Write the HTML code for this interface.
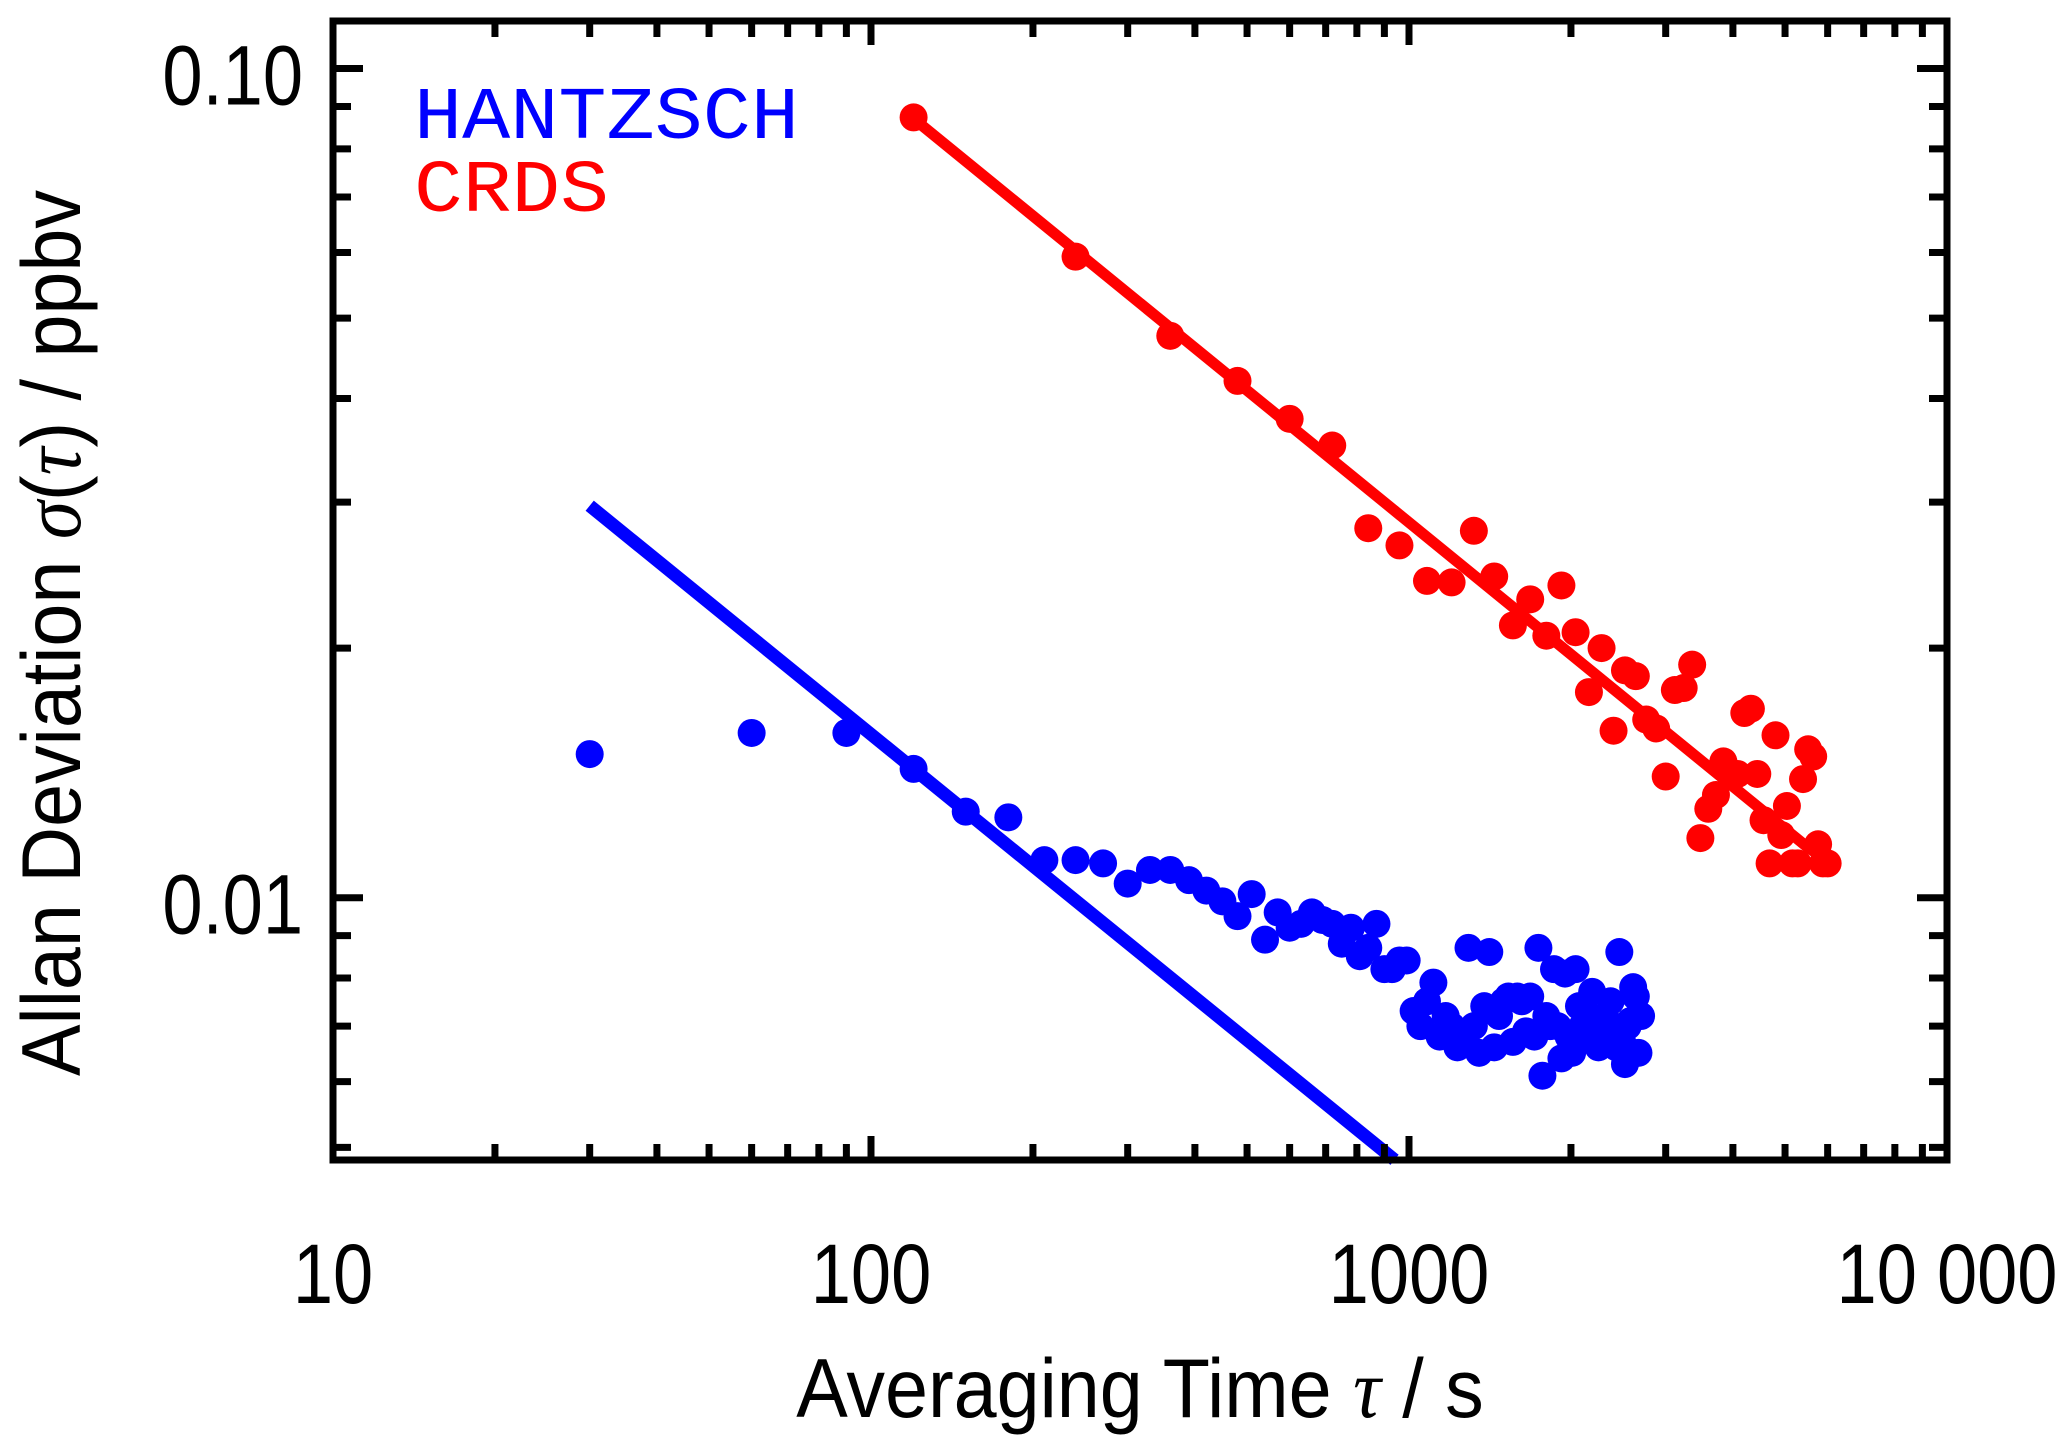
<!DOCTYPE html>
<html><head><meta charset="utf-8"><style>
html,body{margin:0;padding:0;background:#fff;}
svg{display:block;font-family:"Liberation Sans",sans-serif;}
</style></head><body>
<svg id="chart" width="2067" height="1449" viewBox="0 0 2067 1449" xmlns="http://www.w3.org/2000/svg">
<g id="marks"></g>
<g id="axes"></g>
<text x="414" y="138" font-family="Liberation Mono, monospace" font-size="74" textLength="385" lengthAdjust="spacingAndGlyphs" fill="#0000ff">HANTZSCH</text>
<text x="414" y="211" font-family="Liberation Mono, monospace" font-size="74" textLength="195" lengthAdjust="spacingAndGlyphs" fill="#ff0000">CRDS</text>
<text transform="translate(1140,1417) scale(0.92,1)" font-size="84" text-anchor="middle" fill="#000">Averaging Time <tspan font-family="Liberation Serif, serif" font-style="italic">τ</tspan> / s</text>
<text transform="translate(80,633) rotate(-90) scale(0.92,1)" font-size="84" text-anchor="middle" fill="#000">Allan Deviation <tspan font-family="Liberation Serif, serif" font-style="italic">σ</tspan>(<tspan font-family="Liberation Serif, serif" font-style="italic">τ</tspan>) / ppbv</text>
</svg>
<script>
const blueTau=[30,60,90,120,150,180,210,240,270,300,330,360,390,420,450,480,510,540,570,600,630,660,690,720,750,780,810,840,870,900,930,960,990,1020,1050,1080,1110,1140,1170,1200,1230,1260,1290,1320,1350,1380,1410,1440,1470,1500,1530,1560,1590,1620,1650,1680,1710,1740,1770,1800,1830,1860,1890,1920,1950,1980,2010,2040,2070,2100,2130,2160,2190,2220,2250,2280,2310,2340,2370,2400,2430,2460,2490,2520,2550,2580,2610,2640,2670,2700];
const blueSigma=[.0149,.0158,.0158,.0143,.0127,.0125,.0111,.0111,.0110,.0104,.0108,.0108,.0105,.0102,.0099,.0095,.0101,.0089,.0096,.0092,.0093,.0096,.0094,.0093,.0088,.0092,.0085,.0087,.0093,.0082,.0082,.0084,.0084,.0073,.0070,.0075,.0079,.0068,.0072,.0070,.0066,.0068,.0087,.0070,.0065,.0074,.0086,.0066,.0072,.0075,.0076,.0067,.0076,.0075,.0069,.0076,.0068,.0087,.0061,.0072,.0070,.0082,.0070,.0064,.0081,.0068,.0065,.0082,.0074,.0070,.0068,.0072,.0077,.0069,.0066,.0071,.0068,.0067,.0075,.0070,.0066,.0086,.0067,.0063,.0070,.0071,.0078,.0076,.0065,.0072];
const redTau=[120,240,360,480,600,720,840,960,1080,1200,1320,1440,1560,1680,1800,1920,2040,2160,2280,2400,2520,2640,2760,2880,3000,3120,3240,3360,3480,3600,3720,3840,3960,4080,4200,4320,4440,4560,4680,4800,4920,5040,5160,5280,5400,5520,5640,5760,5880,6000];
const redSigma=[.0873,.0593,.0476,.0420,.0378,.0351,.0279,.0266,.0241,.0240,.0277,.0244,.0213,.0229,.0207,.0238,.0209,.0177,.0200,.0159,.0188,.0185,.0164,.0160,.0140,.0178,.0179,.0191,.0118,.0128,.0133,.0146,.0141,.0141,.0167,.0169,.0141,.0124,.0110,.0157,.0119,.0129,.0110,.0110,.0139,.0151,.0148,.0116,.0110,.0110];
const blueFitTau=[30,940];
const blueFitSigma=[0.0297,0.00483];
const redFitTau=[120,5600];
const redFitSigma=[0.087,0.0114];
const xTickLabels=["10","100","1000","10 000"];
const xTickValues=[10,100,1000,10000];
const yTickLabels=["0.01","0.10"];
const yTickValues=[0.01,0.1];

const L=333,R=1947,T=21,B=1160;
const xmin=1,xmax=4,ymin=Math.log10(0.004827),ymax=Math.log10(0.1141);
function X(t){return L+(Math.log10(t)-xmin)/(xmax-xmin)*(R-L);}
function Y(v){return B-(Math.log10(v)-ymin)/(ymax-ymin)*(B-T);}
const NS="http://www.w3.org/2000/svg";
const marks=document.getElementById('marks'),axes=document.getElementById('axes');
function mk(tag,attrs,parent){const e=document.createElementNS(NS,tag);for(const k in attrs)e.setAttribute(k,attrs[k]);parent.appendChild(e);return e;}

let l1=mk('line',{x1:X(blueFitTau[0]),y1:Y(blueFitSigma[0]),x2:X(blueFitTau[1]),y2:Y(blueFitSigma[1]),stroke:'#0000ff','stroke-width':13},marks);


let l2=mk('line',{x1:X(redFitTau[0]),y1:Y(redFitSigma[0]),x2:X(redFitTau[1]),y2:Y(redFitSigma[1]),stroke:'#ff0000','stroke-width':11},marks);



for(let i=0;i<blueTau.length;i++){
  const c=mk('circle',{cx:X(blueTau[i]),cy:Y(blueSigma[i]),r:14,fill:'#0000ff'},marks);
  
  
}
for(let i=0;i<redTau.length;i++){
  const c=mk('circle',{cx:X(redTau[i]),cy:Y(redSigma[i]),r:14,fill:'#ff0000'},marks);
  
  
}

const fr=mk('rect',{x:L,y:T,width:R-L,height:B-T,fill:'none',stroke:'#000','stroke-width':7},axes);



for(let d=10;d<=10000;d*=10){
  for(let m=1;m<10;m++){
    const v=d*m; if(v>10000)break;
    const x=X(v), len=(m===1)?24:16;
    const t1=mk('line',{x1:x,y1:B,x2:x,y2:B-len,stroke:'#000','stroke-width':7},axes);
    
    
    const t2=mk('line',{x1:x,y1:T,x2:x,y2:T+len,stroke:'#000','stroke-width':7},axes);
    
    
  }
}
for(const d of [0.001,0.01,0.1]){
  for(let m=1;m<10;m++){
    const v=d*m; const y=Y(v);
    if(y<T-1||y>B+1)continue;
    const len=(m===1)?30:18;
    const t1=mk('line',{x1:L,y1:y,x2:L+len,y2:y,stroke:'#000','stroke-width':7},axes);
    
    
    const t2=mk('line',{x1:R,y1:y,x2:R-len,y2:y,stroke:'#000','stroke-width':7},axes);
    
    
  }
}
for(let i=0;i<xTickValues.length;i++){
  const t=mk('text',{transform:'translate('+X(xTickValues[i])+',1303) scale(0.86,1)','font-size':84,'text-anchor':'middle',fill:'#000'},axes);
  t.textContent=xTickLabels[i];
  
  
}
for(let i=0;i<yTickValues.length;i++){
  const t=mk('text',{transform:'translate(303,'+(Y(yTickValues[i])+36)+') scale(0.86,1)','font-size':84,'text-anchor':'end',fill:'#000'},axes);
  t.textContent=yTickLabels[i];
  
  
}
</script>
</body></html>
